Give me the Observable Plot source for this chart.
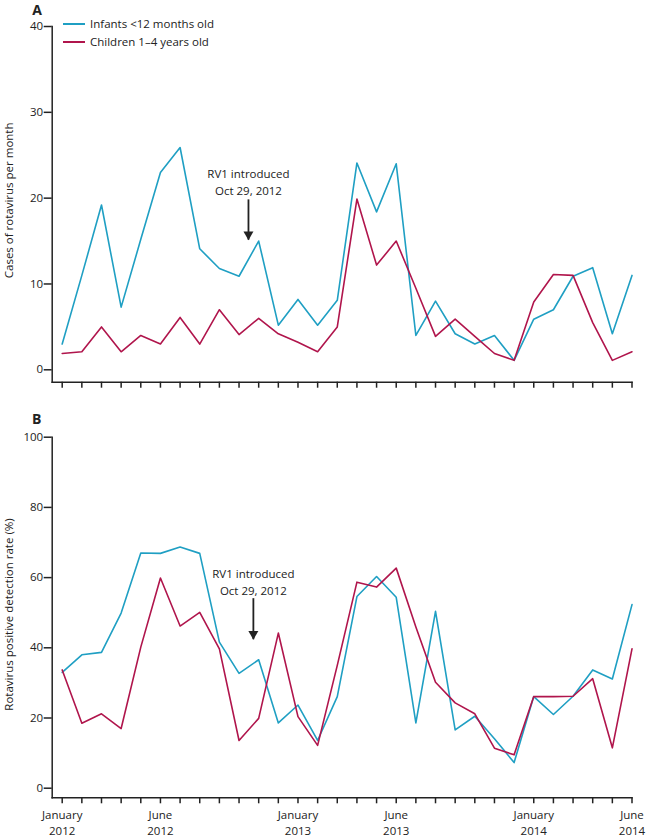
<!DOCTYPE html>
<html>
<head>
<meta charset="utf-8">
<script src="https://cdn.jsdelivr.net/npm/d3@7"></script>
<script src="https://cdn.jsdelivr.net/npm/@observablehq/plot@0.6"></script>
<style>
  body { margin: 0; background: #fff; font-family: "Open Sans", sans-serif; }
  #wrap { position: relative; width: 646px; height: 839px; overflow: hidden; }
  #wrap svg { position: absolute; left: 0; }
  .legend-row { position: absolute; left: 63px; height: 18px; display: flex; align-items: center; font-size: 11.5px; color: #222; line-height: 18px; white-space: nowrap; }
  .swatch { width: 22px; height: 1.6px; margin-right: 5px; }
</style>
</head>
<body>
<div id="wrap"></div>
<script>
// ---- data ----
const months = ["2012-01","2012-02","2012-03","2012-04","2012-05","2012-06","2012-07","2012-08","2012-09","2012-10","2012-11","2012-12",
                "2013-01","2013-02","2013-03","2013-04","2013-05","2013-06","2013-07","2013-08","2013-09","2013-10","2013-11","2013-12",
                "2014-01","2014-02","2014-03","2014-04","2014-05","2014-06"];
const seriesNames = ["Infants <12 months old", "Children 1–4 years old"];
const seriesColors = ["#1f9fc3", "#b0154c"];

// Panel A: cases of rotavirus per month
const casesInfants  = [3, 11, 19.2, 7.3, 15.2, 23, 25.9, 14.1, 11.8, 10.9, 15, 5.2, 8.2, 5.2, 8.1, 24.1, 18.4, 24, 4, 8, 4.2, 3, 4, 1.1, 5.9, 7, 10.9, 11.9, 4.2, 11];
const casesChildren = [1.9, 2.1, 5, 2.1, 4, 3, 6.1, 3, 7, 4.1, 6, 4.2, 3.2, 2.1, 5, 19.9, 12.2, 15, 9.5, 3.9, 5.9, 3.9, 1.9, 1.1, 7.9, 11.1, 11, 5.5, 1.1, 2.1];

// Panel B: rotavirus positive detection rate (%)
const rateInfants  = [33, 38, 38.7, 49.9, 67, 66.9, 68.7, 66.9, 41.6, 32.7, 36.6, 18.6, 23.7, 13.6, 26.1, 54.6, 60.3, 54.4, 18.6, 50.4, 16.6, 20.5, 14.1, 7.3, 26.1, 21, 26.2, 33.7, 31.1, 52.3];
const rateChildren = [33.7, 18.5, 21.2, 17, 40.2, 59.9, 46.2, 50.1, 39.7, 13.6, 19.9, 44.2, 20.4, 12.2, 35, 58.7, 57.3, 62.7, 45.9, 30.2, 24.3, 21.2, 11.4, 9.5, 26.1, 26.1, 26.2, 31.2, 11.5, 39.7];

const yTicksA = [0, 10, 20, 30, 40];
const yTicksB = [0, 20, 40, 60, 80, 100];
const xTickLabels = [
  {m: 0,  label: "January\n2012"},
  {m: 5,  label: "June\n2012"},
  {m: 12, label: "January\n2013"},
  {m: 17, label: "June\n2013"},
  {m: 24, label: "January\n2014"},
  {m: 29, label: "June\n2014"}
];
// annotation: month position, text y, shaft top, arrow tip
const annotA = {x: 9.48, textY: 21.95, top: 19.8, tip: 15.1, label: "RV1 introduced\nOct 29, 2012"};
const annotB = {x: 9.73, textY: 59.0, top: 54.0, tip: 42.3, label: "RV1 introduced\nOct 29, 2012"};

// ---- helpers ----
const monthIdx = months.map((_, i) => i);
const ink = "#222";
const font = "font-family:'Open Sans',sans-serif;font-size:11.5px;color:#222;background:transparent;overflow:visible;";

function rows(values, name) { return values.map((v, i) => ({m: i, v, name})); }

function annotationMarks(a) {
  return [
    Plot.text([a], {x: "x", y: "textY", text: "label", lineAnchor: "middle", lineHeight: 1.45, fill: ink, fontSize: 11.5}),
    Plot.ruleX([a], {x: "x", y1: "top", y2: "tip", stroke: ink, strokeWidth: 1.8}),
    Plot.dot([a], {x: "x", y: "tip", dy: -5.8, symbol: "triangle", r: 3.7, rotate: 180, fill: ink, stroke: null})
  ];
}

function panel({height, marginTop, marginBottom, yDomain, yTicks, insetBottom, infants, children, yLabel, letter, letterDx, letterDy, labelDy, annot, showXLabels}) {
  const data = rows(infants, seriesNames[0]).concat(rows(children, seriesNames[1]));
  return Plot.plot({
    width: 646, height, marginLeft: 51.7, marginRight: 14.5, marginTop, marginBottom,
    style: font,
    x: {domain: [0, months.length - 1], insetLeft: 10},
    y: {domain: yDomain, insetBottom},
    color: {domain: seriesNames, range: seriesColors},
    marks: [
      Plot.frame({anchor: "left", stroke: ink, strokeWidth: 1.5}),
      Plot.frame({anchor: "bottom", stroke: ink, strokeWidth: 1.5}),
      Plot.axisY({ticks: yTicks, tickSize: 8, tickPadding: 1, label: null, strokeWidth: 1.5, stroke: ink, fill: ink, fontSize: 11.5}),
      Plot.axisX({ticks: monthIdx, tickSize: 6, tickFormat: () => "", label: null, strokeWidth: 1.5, stroke: ink}),
      showXLabels ? Plot.text(xTickLabels, {x: "m", text: "label", frameAnchor: "bottom", textAnchor: "middle", lineAnchor: "top", dy: 10, lineHeight: 1.36, fill: ink, fontSize: 11.5}) : null,
      Plot.text([yLabel], {text: d => d, frameAnchor: "left", textAnchor: "middle", lineAnchor: "middle", rotate: -90, dx: -43.2, dy: labelDy, fill: ink, fontSize: 11.5}),
      Plot.text([letter], {text: d => d, frameAnchor: "top-left", textAnchor: "middle", lineAnchor: "bottom", dx: letterDx, dy: letterDy, fontSize: 14, fontWeight: "bold", fill: ink}),
      Plot.lineY(data, {x: "m", y: "v", z: "name", stroke: "name", strokeWidth: 1.6}),
      ...annotationMarks(annot)
    ]
  });
}

const wrap = document.getElementById("wrap");

const plotA = panel({
  height: 390, marginTop: 26, marginBottom: 8.3, yDomain: [0, 40], yTicks: yTicksA, insetBottom: 12.4,
  infants: casesInfants, children: casesChildren, yLabel: "Cases of rotavirus per month",
  letter: "A", letterDx: -15, letterDy: -12, labelDy: -4, annot: annotA, showXLabels: false
});
plotA.style.top = "0px";
wrap.appendChild(plotA);

const plotB = panel({
  height: 449, marginTop: 46.7, marginBottom: 41.7, yDomain: [0, 100], yTicks: yTicksB, insetBottom: 9.6,
  infants: rateInfants, children: rateChildren, yLabel: "Rotavirus positive detection rate (%)",
  letter: "B", letterDx: -15.5, letterDy: -13.4, labelDy: -3, annot: annotB, showXLabels: true
});
plotB.style.top = "390px";
wrap.appendChild(plotB);

// legend (HTML, above panel A's plot area)
seriesNames.forEach((name, i) => {
  const row = document.createElement("div");
  row.className = "legend-row";
  row.style.top = (15 + i * 18) + "px";
  const sw = document.createElement("span");
  sw.className = "swatch";
  sw.style.background = seriesColors[i];
  const tx = document.createElement("span");
  tx.textContent = name;
  row.appendChild(sw);
  row.appendChild(tx);
  wrap.appendChild(row);
});
</script>
</body>
</html>
